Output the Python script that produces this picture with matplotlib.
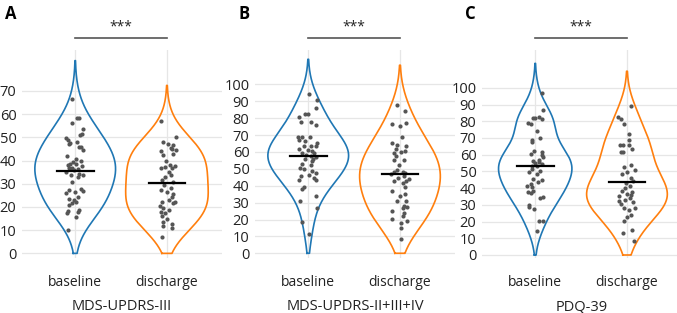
import numpy as np
from matplotlib import pyplot as plt
from matplotlib.transforms import blended_transform_factory

plt.rcParams['font.family'] = ['Open Sans', 'DejaVu Sans']

categories = ['baseline', 'discharge']
panel_letters = ['A', 'B', 'C']
panel_titles = ['MDS-UPDRS-III', 'MDS-UPDRS-II+III+IV', 'PDQ-39']
y_ticks = [list(range(0, 80, 10)), list(range(0, 110, 10)), list(range(0, 110, 10))]
significance = ['***', '***', '***']

# Means (black bars)
means = [[35.6, 30.4], [57.8, 47.1], [53.1, 43.4]]

# Kernel bandwidth of each violin
bandwidths = [[8.2, 7.7], [10.2, 11.7], [9.0, 10.3]]

# A: MDS-UPDRS-III
a_base = [66.7, 58.2, 58.2, 56.0, 53.8, 51.6, 51.0, 49.8, 48.8, 47.6, 47.0, 46.0, 46.0, 44.5, 42.0, 40.5,
          40.0, 38.7, 38.0, 38.7, 37.7, 36.6, 35.9, 35.1, 34.4, 33.7, 33.0, 33.7, 30.6, 27.5, 27.7, 26.8,
          26.5, 26.1, 24.4, 23.0, 23.4, 22.2, 20.8, 18.2, 18.6, 17.8, 17.2, 15.5, 10.0, 37.0, 36.2, 39.5,
          48.0, 21.5]
a_base_jit = [-0.04, 0.02, 0.04, -0.04, 0.08, 0.07, 0.05, -0.10, -0.08, -0.06, -0.07, 0.04, 0.06, 0.08,
              -0.09, 0.01, 0.06, -0.06, -0.08, 0.01, 0.07, -0.07, -0.01, -0.10, 0.04, -0.05, 0.03, 0.08,
              -0.03, -0.07, 0.06, 0.08, 0.0, -0.10, 0.03, -0.01, -0.07, 0.01, -0.07, -0.08, 0.04, 0.03,
              -0.09, 0.01, -0.08, -0.04, 0.03, -0.02, 0.02, -0.04]
a_dis = [57.0, 48.0, 47.0, 50.0, 46.6, 44.9, 44.2, 44.5, 42.3, 43.0, 38.3, 37.6, 37.3, 36.6, 36.6, 35.1,
         33.0, 31.6, 30.8, 28.0, 27.3, 26.5, 24.4, 23.0, 21.5, 22.2, 20.5, 19.4, 18.6, 17.9, 17.2, 16.0,
         15.0, 13.6, 12.6, 11.8, 10.8, 7.2, 45.5, 40.0, 34.0, 29.5, 25.5, 22.0]
a_dis_jit = [-0.07, -0.04, 0.01, 0.10, 0.07, 0.05, -0.07, 0.10, -0.04, 0.07, 0.03, 0.09, -0.02, -0.07,
             0.05, 0.02, -0.02, -0.05, 0.07, 0.04, -0.07, 0.0, 0.05, 0.02, 0.07, 0.09, -0.08, -0.04, 0.02,
             -0.07, -0.02, -0.05, 0.0, -0.04, 0.05, -0.04, 0.05, -0.05, 0.04, -0.01, 0.04, -0.03, 0.07,
             -0.05]

# B: MDS-UPDRS-II+III+IV
b_base = [94.5, 91.0, 86.0, 80.8, 82.2, 82.2, 78.0, 77.6, 76.2, 69.0, 68.7, 68.7, 67.0, 66.7, 65.3, 63.8,
          63.4, 63.4, 61.8, 61.0, 59.4, 59.4, 57.4, 57.0, 55.8, 54.5, 52.9, 52.5, 50.5, 49.9, 48.5, 47.5,
          46.5, 44.6, 43.6, 43.6, 39.0, 38.0, 34.0, 31.0, 27.1, 18.8, 11.3, 58.5, 56.0, 45.5, 60.5]
b_base_jit = [0.01, 0.10, 0.09, -0.10, -0.03, 0.0, -0.08, 0.03, 0.08, -0.11, -0.07, 0.02, -0.10, -0.04,
              0.10, 0.03, -0.05, 0.09, -0.10, 0.0, 0.06, -0.07, 0.03, 0.08, -0.03, 0.04, -0.07, 0.03,
              -0.09, -0.05, 0.04, 0.08, 0.01, 0.06, 0.09, -0.10, -0.05, -0.07, 0.08, -0.09, 0.10, -0.07,
              0.01, -0.02, 0.05, -0.08, 0.04]
b_dis = [88.0, 84.5, 76.4, 77.2, 75.2, 68.7, 65.3, 64.4, 63.4, 60.8, 59.4, 60.0, 57.8, 55.4, 55.4, 52.5,
         49.5, 48.3, 47.9, 47.5, 46.9, 45.5, 44.6, 44.0, 42.6, 41.6, 42.6, 37.0, 35.2, 33.7, 30.7, 30.7,
         28.1, 27.7, 26.7, 23.8, 25.3, 21.8, 19.4, 20.2, 17.8, 14.9, 8.3, 62.0, 39.0]
b_dis_jit = [-0.03, 0.06, -0.09, 0.07, 0.0, 0.02, -0.09, -0.03, 0.07, 0.05, -0.06, 0.01, -0.04, -0.07,
             0.04, -0.01, -0.03, -0.06, 0.03, 0.06, -0.10, 0.04, -0.02, 0.10, -0.07, 0.03, 0.07, -0.09,
             0.06, 0.0, -0.03, 0.07, 0.04, 0.08, 0.03, 0.04, -0.09, 0.03, 0.08, -0.09, 0.01, 0.01, 0.01,
             -0.04, 0.06]

# C: PDQ-39
c_base = [96.6, 14.5, 20.2, 20.2, 30.0, 27.3, 34.3, 34.7, 36.8, 38.4, 40.4, 42.4, 43.4, 44.8, 45.5, 48.5,
          49.5, 50.5, 51.5, 53.5, 54.5, 56.2, 57.0, 58.6, 60.2, 61.6, 59.6, 67.7, 69.0, 69.7, 74.1, 79.2,
          78.4, 82.2, 82.8, 81.2, 86.5, 81.8, 29.0, 37.5, 55.0, 55.8, 53.0, 41.5, 62.0]
c_base_jit = [0.07, 0.02, 0.04, 0.08, -0.07, -0.01, 0.05, 0.08, -0.05, -0.02, -0.04, -0.05, 0.03, 0.07,
              -0.02, 0.02, -0.07, 0.05, -0.04, 0.02, 0.07, -0.02, 0.04, 0.09, -0.05, 0.07, 0.07, -0.04,
              -0.04, 0.05, 0.02, -0.08, -0.05, -0.02, 0.04, 0.07, 0.08, 0.0, -0.07, -0.08, 0.0, 0.04,
              -0.03, -0.09, -0.01]
c_dis = [89.3, 82.8, 81.2, 78.4, 72.3, 69.0, 65.6, 65.6, 65.6, 63.2, 61.6, 61.6, 54.1, 52.5, 50.9, 49.5,
         48.5, 44.4, 42.8, 41.4, 38.4, 37.4, 36.4, 35.4, 34.3, 32.7, 31.7, 32.3, 28.3, 27.9, 26.7, 24.2,
         22.6, 20.2, 15.2, 13.1, 8.1, 46.0, 40.0, 36.0, 30.5]
c_dis_jit = [0.04, -0.10, -0.07, -0.03, 0.02, 0.02, -0.08, -0.04, 0.02, 0.06, -0.07, -0.04, 0.04, -0.03,
             0.09, 0.0, -0.05, 0.07, -0.01, 0.03, -0.05, 0.05, 0.0, -0.09, 0.03, -0.02, 0.07, -0.09,
             -0.03, 0.09, 0.02, 0.04, 0.0, -0.03, 0.05, -0.04, 0.08, 0.04, -0.02, 0.04, -0.07]

values = [[a_base, a_dis], [b_base, b_dis], [c_base, c_dis]]
jitters = [[a_base_jit, a_dis_jit], [b_base_jit, b_dis_jit], [c_base_jit, c_dis_jit]]

colours = ['#1f77b4', '#ff7f0e']
max_half_width = [[0.44, 0.45], [0.44, 0.44], [0.40, 0.44]]

# layout (figure fractions) and y ranges
axes_left = [0.0325, 0.3767, 0.712]
y_lims = [(-2.0, 87.6), (-2.8, 120.3), (-1.8, 122.5)]


def kde(data, bw, grid):
    data = np.asarray(data)
    z = (grid[:, None] - data[None, :]) / bw
    return np.exp(-0.5 * z ** 2).sum(axis=1)


def draw_violin(ax, pos, data, bw, half_width, colour):
    lo = max(0.0, min(data) - 2 * bw)
    hi = max(data) + 2 * bw
    grid = np.linspace(lo, hi, 300)
    dens = kde(data, bw, grid)
    w = half_width * dens / dens.max()
    xs = np.concatenate([pos - w, (pos + w)[::-1], [pos - w[0]]])
    ys = np.concatenate([grid, grid[::-1], [grid[0]]])
    ax.plot(xs, ys, color=colour, lw=1.2, zorder=3, solid_joinstyle='round')


fig = plt.figure(figsize=(6.77, 3.13), dpi=100)

for p in range(3):
    ax = fig.add_axes([axes_left[p], 0.1757, 0.2954, 0.664])
    ax.set_xlim(-0.58, 1.6)
    ax.set_ylim(*y_lims[p])
    ax.set_yticks(y_ticks[p])
    ax.set_xticks([0, 1])
    ax.set_xticklabels(categories)
    ax.tick_params(length=0, labelsize=10, colors='#222222')
    ax.tick_params(axis='y', labelsize=10.5, pad=4)
    ax.tick_params(axis='x', pad=12)
    ax.grid(True, color='#e6e6e6', lw=0.9, zorder=0)
    for s in ax.spines.values():
        s.set_visible(False)
    ax.set_xlabel(panel_titles[p], fontsize=10.5, color='#222222', labelpad=7)

    for k in range(2):
        draw_violin(ax, k, values[p][k], bandwidths[p][k], max_half_width[p][k], colours[k])
        ax.scatter(k + np.array(jitters[p][k]), values[p][k], s=9, color='#555555', zorder=4,
                   linewidths=0)
        ax.plot([k - 0.2, k + 0.2], [means[p][k]] * 2, color='black', lw=1.6, zorder=5)

    trans = blended_transform_factory(ax.transData, ax.transAxes)
    ax.plot([0, 1], [1.059, 1.059], color='#555555', lw=1.2, transform=trans, clip_on=False)
    ax.text(0.5, 1.11, significance[p], transform=trans, ha='center', va='center', fontsize=10,
            color='#222222')
    fig.text(axes_left[p] - 0.025, 0.985, panel_letters[p], fontsize=12, fontweight='bold',
             ha='left', va='top')

fig.savefig('out.png', dpi=100)
